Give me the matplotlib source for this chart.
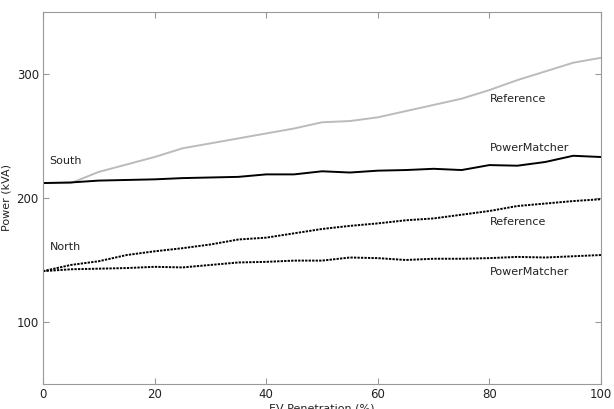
import numpy as np
import matplotlib.pyplot as plt

# EV penetration (%)
penetration = [0, 5, 10, 15, 20, 25, 30, 35, 40, 45, 50,
               55, 60, 65, 70, 75, 80, 85, 90, 95, 100]

# South feeder
south_ref = [212, 212, 221, 227, 233, 240, 244, 248, 252, 256, 261,
             262, 265, 270, 275, 280, 287, 295, 302, 309, 313]
south_pm = [212, 212.5, 214, 214.5, 215, 216, 216.5, 217, 219, 219, 221.5,
            220.5, 222, 222.5, 223.5, 222.5, 226.5, 226, 229, 234, 233]

# North feeder
north_ref = [141, 146, 149, 154, 157, 159.5, 162.5, 166.5, 168, 171.5, 175,
             177.5, 179.5, 182, 183.5, 186.5, 189.5, 193.5, 195.5, 197.5, 199]
north_pm = [141, 142.5, 143, 143.5, 144.5, 144, 146, 148, 148.5, 149.5, 149.5,
            152, 151.5, 150, 151, 151, 151.5, 152.5, 152, 153, 154]

fig = plt.figure(figsize=(6.14, 4.09), dpi=100)
ax = fig.add_axes([0.070, 0.061, 0.909, 0.910])

ax.plot(penetration, south_ref, color='#bbbbbb', lw=1.4)
ax.plot(penetration, south_pm, color='black', lw=1.4)
ax.plot(penetration, north_ref, color='black', lw=1.4, dashes=(1.2, 0.6))
ax.plot(penetration, north_pm, color='black', lw=1.4, dashes=(1.2, 0.6))

txt = dict(fontsize=8, color='#222222', va='center', ha='left')
ax.text(1.2, 229.5, 'South', **txt)
ax.text(1.2, 160.5, 'North', **txt)
ax.text(80, 280, 'Reference', **txt)
ax.text(80, 240, 'PowerMatcher', **txt)
ax.text(80, 180.5, 'Reference', **txt)
ax.text(80, 140, 'PowerMatcher', **txt)

ax.set_xlim(0, 100)
ax.set_ylim(50, 350)
ax.set_xticks([0, 20, 40, 60, 80, 100])
ax.set_yticks([100, 200, 300])
ax.tick_params(direction='in', top=True, right=True, length=4,
               color='#999999', labelsize=8.5, labelcolor='#222222', pad=3)
for s in ax.spines.values():
    s.set_color('#999999')
    s.set_linewidth(0.8)

ax.set_xlabel('EV Penetration (%)', fontsize=8, color='#222222', labelpad=1.5)
ax.set_ylabel('Power (kVA)', fontsize=8, color='#222222', labelpad=4)

fig.savefig('out.png', dpi=100)
